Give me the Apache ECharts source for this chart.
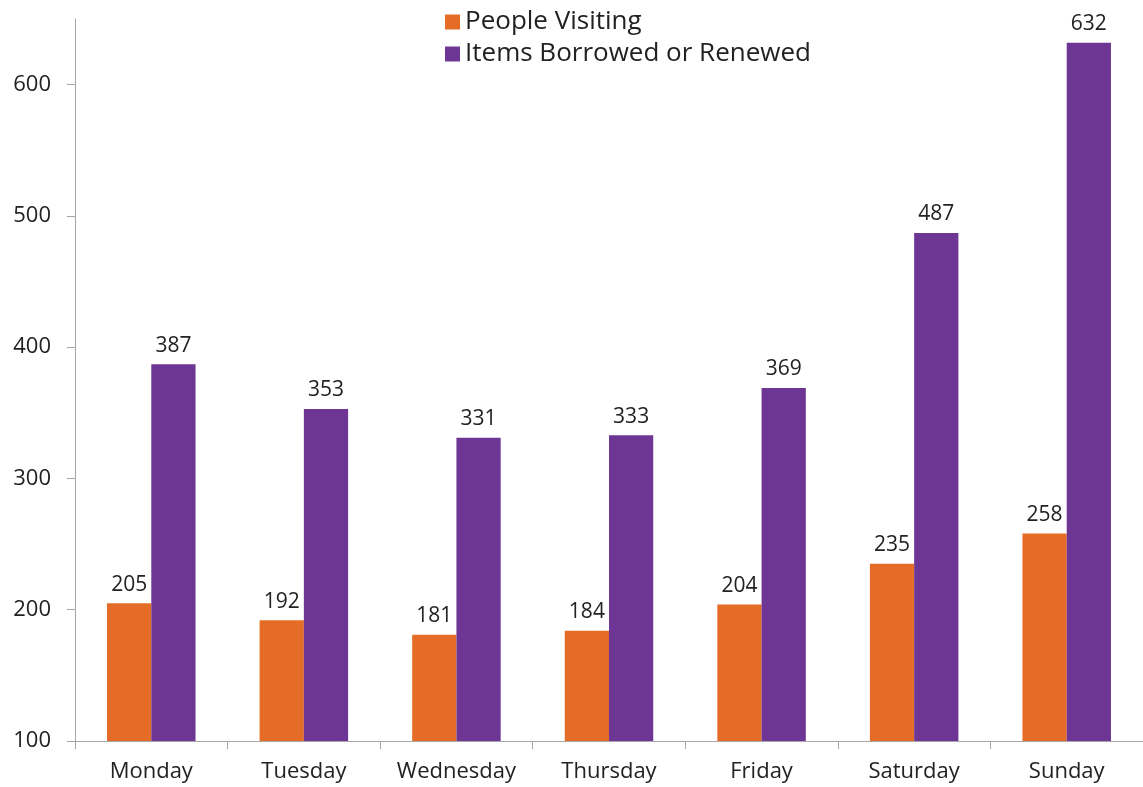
<!DOCTYPE html>
<html><head><meta charset="utf-8">
<script src="https://cdn.jsdelivr.net/npm/echarts@6/dist/echarts.min.js"></script>
<style>html,body{margin:0;padding:0;background:#fff}#c{width:1143px;height:787px}</style>
</head><body><div id="c"></div>
<script>
const categories = ['Monday','Tuesday','Wednesday','Thursday','Friday','Saturday','Sunday'];
const peopleVisiting = [205,192,181,184,204,235,258];
const itemsBorrowed = [387,353,331,333,369,487,632];
const seriesNames = ['People Visiting','Items Borrowed or Renewed'];
const FONT = 'Open Sans';
const chart = echarts.init(document.getElementById('c'));
const lbl = {show:true, position:'top', color:'#222', fontSize:21, fontFamily:FONT, distance:8};
chart.setOption({
  animation:false,
  textStyle:{fontFamily:FONT},
  legend:{orient:'vertical', left:440, top:4, itemWidth:15, itemHeight:15, itemGap:6, icon:'rect',
    textStyle:{fontSize:26, color:'#222', fontFamily:FONT, lineHeight:26},
    data:seriesNames},
  grid:{left:75, right:0, top:19, bottom:46, containLabel:false},
  xAxis:{type:'category', data:categories,
    axisLine:{lineStyle:{color:'#A6A6A6', width:1}},
    axisTick:{show:true, interval:0, length:8, lineStyle:{color:'#A6A6A6'}},
    axisLabel:{interval:0, hideOverlap:false, fontSize:22, color:'#222', fontFamily:FONT, margin:20}},
  yAxis:{type:'value', min:100, max:650, interval:100,
    splitLine:{show:false},
    axisLine:{show:true, lineStyle:{color:'#A6A6A6', width:1}},
    axisTick:{show:true, length:8, lineStyle:{color:'#A6A6A6'}},
    axisLabel:{fontSize:22, color:'#222', fontFamily:FONT, margin:24, showMaxLabel:false,
      formatter:v=> (v%100===0 ? String(v) : '')}},
  series:[
    {name:seriesNames[0], type:'bar', data:peopleVisiting, barGap:'0%', barCategoryGap:'42%',
      itemStyle:{color:'#E46C26'}, label:lbl},
    {name:seriesNames[1], type:'bar', data:itemsBorrowed, barGap:'0%', barCategoryGap:'42%',
      itemStyle:{color:'#6E3694'}, label:lbl}
  ]
});
</script></body></html>
